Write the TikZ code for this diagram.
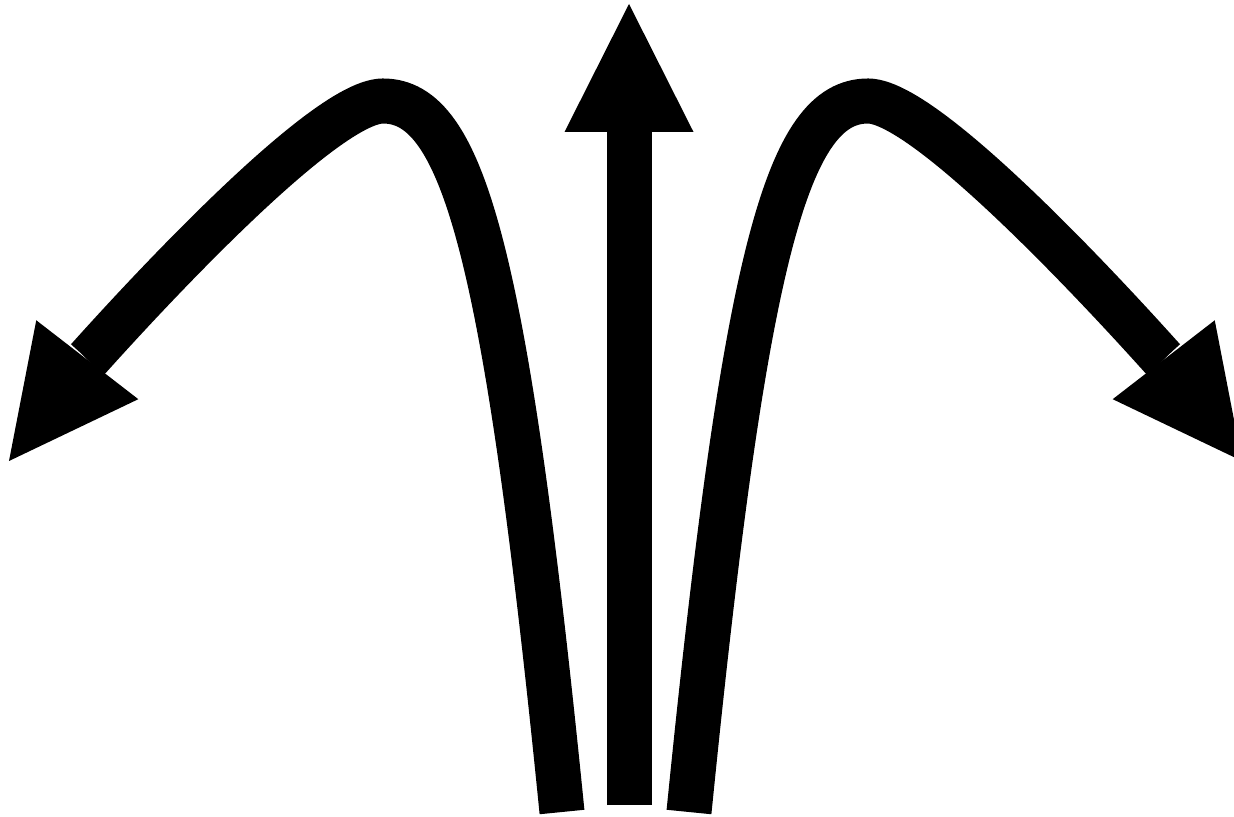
\documentclass[tikz,border=0pt]{standalone}
\usepackage{tikz}
\usetikzlibrary{arrows.meta}
\tikzset{
	fatarrow/.style={line width=9mm, -{Triangle[length=25.6mm, width=25.8mm, line width=0pt]}},
}
\begin{document}
\begin{tikzpicture}[x=0.2mm, y=-0.2mm]
	\useasboundingbox (0,0) rectangle (1234,817);
	
	%% -- Feet, peaks and tips
	\coordinate (mfoot) at (629,805);
	\coordinate (mtip) at (629,4);
	\coordinate (lfoot) at (562,812);
	\coordinate (lpeak) at (383,101);
	\coordinate (ltip) at (9,461);
	\coordinate (rfoot) at (689,812);
	\coordinate (rpeak) at (868,101);
	\coordinate (rtip) at (1242,461);
	
	%% -- Middle arrow
	\draw[fatarrow] (mfoot) -- (mtip);
	
	%% -- Left arrow
	\draw[fatarrow] (lfoot) .. controls (506,252) and (463,101) .. (lpeak)
		.. controls (315,101) and (84,364) .. (ltip);
	
	%% -- Right arrow
	\draw[fatarrow] (rfoot) .. controls (745,252) and (788,101) .. (rpeak)
		.. controls (936,101) and (1167,364) .. (rtip);
	
\end{tikzpicture}
\end{document}
